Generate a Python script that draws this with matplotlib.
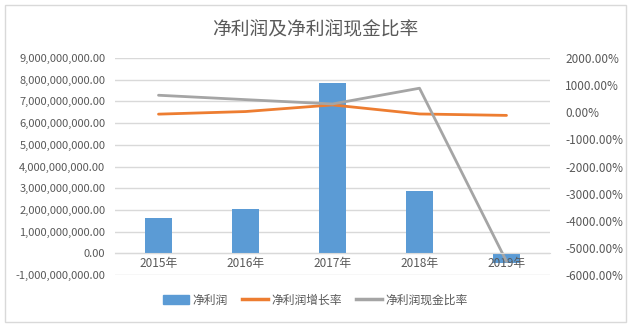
import matplotlib.pyplot as plt
from matplotlib.ticker import FuncFormatter, MultipleLocator
from matplotlib.patches import Rectangle
from matplotlib.lines import Line2D

plt.rcParams['font.family'] = ['Noto Sans CJK SC', 'DejaVu Sans']

years = ['2015年', '2016年', '2017年', '2018年', '2019年']
net_profit = [1.61e9, 2.03e9, 7.83e9, 2.86e9, -0.45e9]
growth_rate = [-70, 26, 270, -63, -116]          # %
cash_ratio = [627, 465, 306, 886, -5500]         # %

blue, orange, grey = '#5B9BD5', '#ED7D31', '#A5A5A5'
text_c = '#595959'
grid_c = '#D9D9D9'

fig = plt.figure(figsize=(6.31, 3.27), dpi=100)
fig.patches.append(Rectangle((0.008, 0.015), 0.984, 0.97, transform=fig.transFigure,
                             fill=False, edgecolor=grid_c, linewidth=1))

ax = fig.add_axes([115 / 631, 1 - 275 / 327, 435 / 631, 217 / 327])
x = range(len(years))
ax.bar(x, net_profit, width=0.32, color=blue, zorder=2)
ax.set_xlim(-0.5, len(years) - 0.5)
ax.set_ylim(-1e9, 9e9)
ax.yaxis.set_major_locator(MultipleLocator(1e9))
ax.yaxis.set_major_formatter(FuncFormatter(lambda v, p: f'{v:,.2f}'))
ax.grid(axis='y', color=grid_c, linewidth=1, zorder=0)
for s in ax.spines.values():
    s.set_visible(False)
ax.tick_params(axis='x', length=0, labelbottom=False)
ax.tick_params(axis='y', length=0, labelsize=8, colors=text_c, pad=7)

ax2 = ax.twinx()
ax2.plot(x, growth_rate, color=orange, linewidth=2, solid_capstyle='round', zorder=2)
ax2.plot(x, cash_ratio, color=grey, linewidth=2, solid_capstyle='round', zorder=2.2)
ax2.set_ylim(-6000, 2000)
ax2.yaxis.set_major_locator(MultipleLocator(1000))
ax2.yaxis.set_major_formatter(FuncFormatter(lambda v, p: f'{v:.2f}%'))
for s in ['top', 'right', 'left']:
    ax2.spines[s].set_visible(False)
# category axis sits on the zero line of the profit scale
ax2.xaxis.set_visible(True)
ax2.spines['bottom'].set_position(('axes', 0.1))
ax2.spines['bottom'].set_color(grid_c)
ax2.set_xticks(list(x))
ax2.set_xticklabels(years)
ax2.tick_params(axis='x', length=0, labelbottom=True, labelsize=8.5, colors=text_c, pad=3)
ax2.tick_params(axis='y', length=0, labelsize=8.5, colors=text_c, pad=11)

fig.text(0.5, 1 - 30 / 327, '净利润及净利润现金比率', ha='center', va='center',
         fontsize=13.5, color=text_c)

handles = [Rectangle((0, 0), 1, 1, color=blue),
           Line2D([0], [0], color=orange, linewidth=2.5),
           Line2D([0], [0], color=grey, linewidth=2.5)]
fig.legend(handles, ['净利润', '净利润增长率', '净利润现金比率'], loc='center',
           bbox_to_anchor=(0.5, 1 - 300 / 327), ncol=3, frameon=False,
           fontsize=8.5, labelcolor=text_c, handlelength=2.2, handletextpad=0.3,
           columnspacing=1.2)

plt.savefig('out.png', dpi=100)
